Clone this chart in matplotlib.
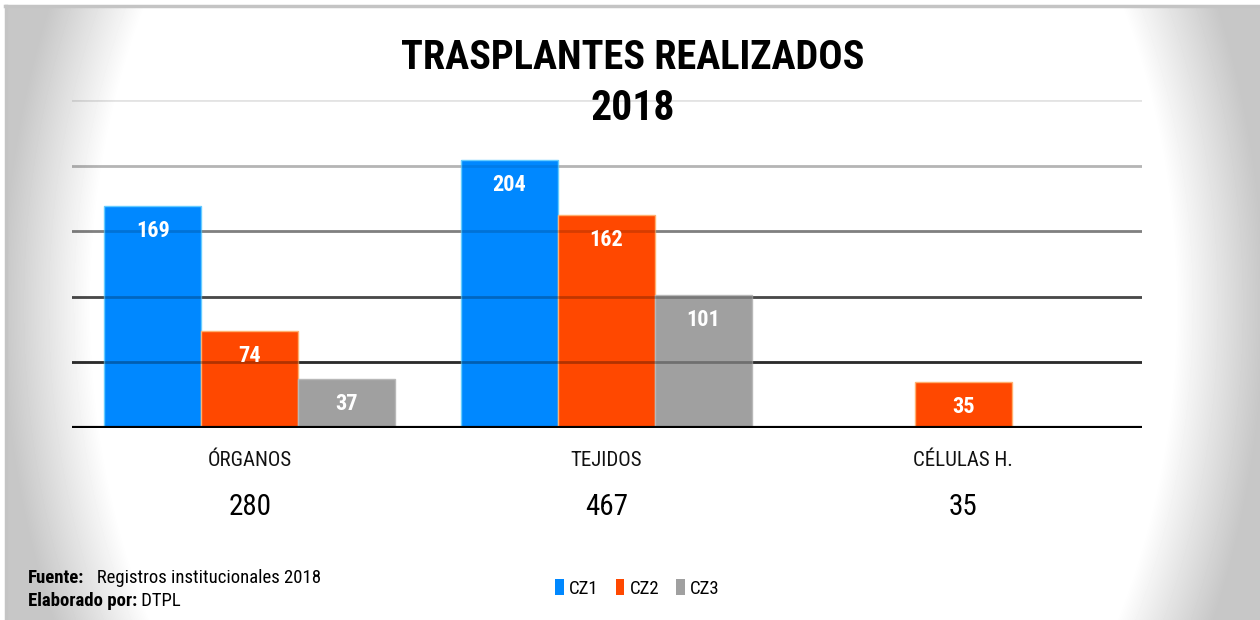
import numpy as np
import matplotlib
matplotlib.use("Agg")
import matplotlib.pyplot as plt
from matplotlib import font_manager
from matplotlib.font_manager import FontProperties
from matplotlib.patches import Patch

categories = ["ÓRGANOS", "TEJIDOS", "CÉLULAS H."]
series = ["CZ1", "CZ2", "CZ3"]
cz1 = [169, 204, np.nan]
cz2 = [74, 162, 35]
cz3 = [37, 101, np.nan]
totals = [280, 467, 35]

COLORS = ["#0088ff", "#ff4800", "#a0a0a0"]
EDGES = ["#66ccff", "#ffb070", "#b8b8b8"]


def find_condensed():
    """Look for a narrow family (Calibri-like); fall back to Open Sans."""
    files = [f for f in font_manager.fontManager.ttflist]
    for key in ["RobotoCondensed", "Roboto Condensed", "OpenSansCondensed", "OpenSans_Condensed",
                "LiberationSansNarrow", "DejaVuSansCondensed"]:
        reg = [f.fname for f in files if key.replace(" ", "").lower() in f.fname.replace(" ", "").replace("-", "").lower()
               and "italic" not in f.fname.lower() and "oblique" not in f.fname.lower()]
        if not reg:
            continue
        bold = [p for p in reg if "bold" in p.lower() and "semi" not in p.lower() and "extra" not in p.lower()]
        plain = [p for p in reg if "regular" in p.lower() or not any(
            w in p.lower() for w in ["bold", "light", "thin", "medium", "black", "semi"])]
        if bold and plain:
            return sorted(plain, key=len)[0], sorted(bold, key=len)[0], key
    return None


found = find_condensed()


def fp(size, bold=False):
    if found:
        return FontProperties(fname=found[1] if bold else found[0], size=size)
    return FontProperties(family="Open Sans", weight="bold" if bold else "normal", size=size)


fig = plt.figure(figsize=(12.6, 6.2), dpi=100)

# background: white centre fading to grey at the sides, with a thin frame
bg = fig.add_axes([6 / 1260, 0, 1 - 6 / 1260, 1 - 6 / 620], zorder=-10)
yy, xx = np.mgrid[0:614, 0:1254]
r = np.sqrt(((xx - 627) / 630) ** 2 + ((yy - 300) / 800) ** 2)
shade = 1 - 0.22 * np.clip((r - 0.86) / 0.14, 0, 1)
bg.imshow(shade, cmap="gray", vmin=0, vmax=1, aspect="auto", interpolation="bilinear")
bg.axis("off")
fig.add_artist(plt.Line2D([5 / 1260, 1], [1 - 6 / 620] * 2, color="#c4c4c4", lw=2.5))
fig.add_artist(plt.Line2D([6 / 1260] * 2, [0, 1 - 6 / 620], color="#c4c4c4", lw=2.5))

ax = fig.add_axes([71.5 / 1260, (620 - 428) / 620, 1070 / 1260, 328 / 620])
ax.patch.set_alpha(0)
ax.set_xlim(-0.5, 2.5)
ax.set_ylim(0, 250)

x = np.arange(len(categories))
w = 0.272
for i, (vals, c, e) in enumerate(zip([cz1, cz2, cz3], COLORS, EDGES)):
    pos = x + (i - 1) * w
    ax.bar(pos, vals, width=w, color=c, edgecolor=e, linewidth=1, zorder=2)
    for px, v in zip(pos, vals):
        if np.isnan(v):
            continue
        ax.annotate(f"{v:.0f}", (px, v), xytext=(0, -18), textcoords="offset points",
                    ha="center", va="center", color="white",
                    fontproperties=fp(16, bold=True), zorder=5)

# gridlines: dark behind the bars, fainter on top of them
grid_levels = [50, 100, 150, 200, 250]
grid_alpha = [0.75, 0.62, 0.4, 0.22, 0.08]
for lv, a in zip(grid_levels, grid_alpha):
    ax.axhline(lv, color="black", alpha=a, lw=2, zorder=1)
    ax.axhline(lv, color="black", alpha=a * 0.4, lw=2, zorder=3)
ax.axhline(0, color="black", lw=3, zorder=4)

for s in ax.spines.values():
    s.set_visible(False)
ax.set_xticks([])
ax.set_yticks([])

tr = ax.get_xaxis_transform()
for xi, cat, tot in zip(x, categories, totals):
    ax.text(xi, -0.098, cat, transform=tr, ha="center", va="center",
            fontproperties=fp(15), color="#111111")
    ax.text(xi, -0.24, f"{tot}", transform=tr, ha="center", va="center",
            fontproperties=fp(21), color="black")

fig.text(0.502, 0.907, "TRASPLANTES REALIZADOS", ha="center", va="center",
         fontproperties=fp(29, bold=True))
fig.text(0.502, 0.825, "2018", ha="center", va="center",
         fontproperties=fp(30, bold=True))

handles = [Patch(facecolor=c) for c in COLORS]
fig.legend(handles, series, loc="center", bbox_to_anchor=(0.506, 0.051), ncol=3,
           frameon=False, prop=fp(13.5), handlelength=0.45, handleheight=0.9,
           handletextpad=0.3, columnspacing=0.9)

# footnote: bold label followed by plain text
renderer = fig.canvas.get_renderer()
for label, rest, yf in [("Fuente:", "   Registros institucionales 2018", 0.068),
                        ("Elaborado por:", " DTPL", 0.030)]:
    t = fig.text(28 / 1260, yf, label, ha="left", va="center", fontproperties=fp(13.5, bold=True))
    bb = t.get_window_extent(renderer)
    fig.text(bb.x1 / fig.bbox.width, yf, rest, ha="left", va="center", fontproperties=fp(13.5))

fig.savefig("out.png", dpi=100)
